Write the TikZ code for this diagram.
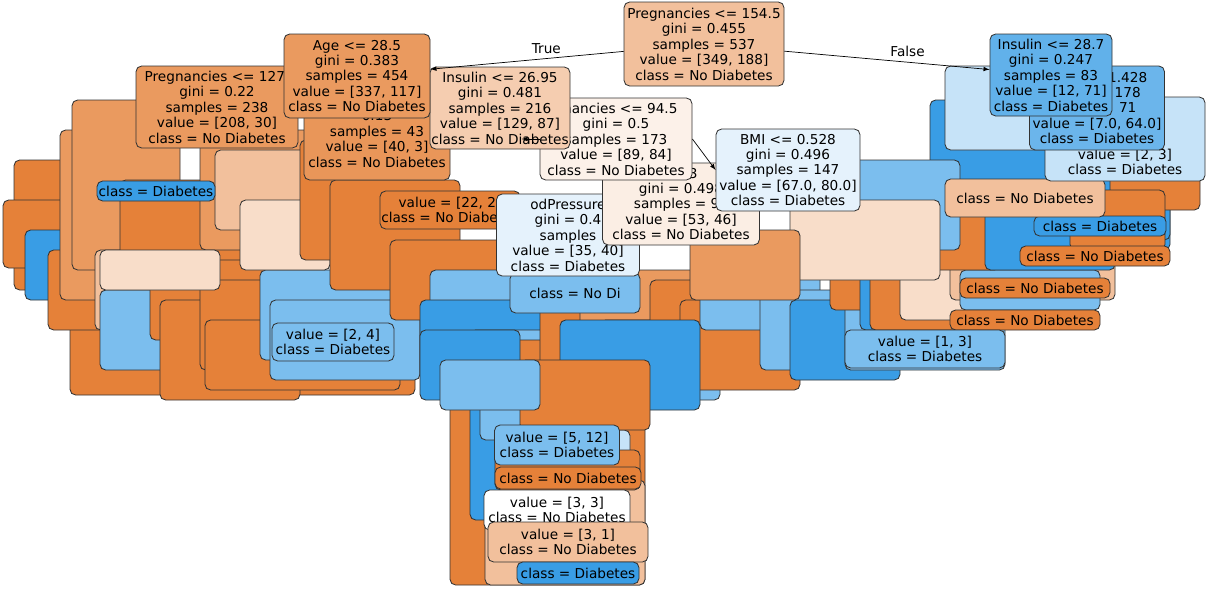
\documentclass[tikz,border=0pt]{standalone}
\usepackage{fontspec}
\setmainfont{DejaVu Sans}
\begin{document}
\begin{tikzpicture}[x=0.025cm,y=-0.025cm,
  nd/.style={draw=black!80,line width=0.6pt,rounded corners=4pt,align=center,inner sep=0pt,
    font=\fontsize{9.7}{11}\selectfont},
  ar/.style={-latex,line width=0.5pt}]
\useasboundingbox (0,0) rectangle (1213,588);
\definecolor{o1}{HTML}{E58139}\definecolor{o2}{HTML}{EA9A5F}\definecolor{o3}{HTML}{F2C09C}
\definecolor{o4}{HTML}{F8DDC9}\definecolor{b1}{HTML}{399DE5}\definecolor{b2}{HTML}{7BBEEE}
\definecolor{b3}{HTML}{C6E3F8}\definecolor{b4}{HTML}{E5F2FC}
\newcommand\bx[6]{\node[nd,fill=#5,minimum width={(#3-#1)*0.025cm},minimum height={(#4-#2)*0.025cm}] (#6) at ({(#1+#3)/2},{(#2+#4)/2}) {};}
% clutter layer
\foreach \a/\b/\c/\d/\e [count=\i] in {
 70/300/415/395/o1, 450/380/645/585/o1, 485/480/645/585/o3, 470/400/560/520/b1,
 14/160/100/290/o1, 3/200/90/268/o1, 25/230/140/300/b1, 48/250/150/330/o1,
 60/130/160/300/o2, 72/100/180/270/o2, 95/250/250/330/o3, 100/290/260/370/b2,
 150/240/310/340/o1, 160/300/300/400/o1, 200/280/320/370/o1, 205/320/400/390/o1,
 260/270/420/360/b2, 270/300/420/380/b2, 120/180/260/260/o1, 200/130/330/250/o2,
 215/150/320/230/o3, 240/200/330/270/o4, 300/140/430/260/o1, 330/180/460/290/o1,
 390/240/520/320/o1, 430/270/560/340/b2, 420/300/560/380/b1, 470/330/600/400/b2,
 505/340/640/410/o1, 540/300/660/380/o1, 580/270/700/350/o2, 600/320/720/400/b2,
 650/280/770/360/o1, 680/300/800/390/o1, 700/250/820/330/b2, 760/290/880/370/b2,
 790/300/900/380/b1, 845/300/1005/370/b2, 830/230/960/310/o1, 860/250/1000/330/b1,
 870/270/1000/330/o1, 900/250/1010/320/o4, 950/250/1115/300/o3, 960/270/1100/310/b2,
 930/170/1060/250/b1, 940/140/1050/240/b3, 960/160/1170/250/b1, 990/180/1170/240/b1,
 920/170/1000/270/o1, 940/130/1010/210/o3, 1000/120/1120/200/o1, 1060/150/1200/210/o1,
 1015/150/1110/200/b1, 930/100/1070/180/b1, 945/66/1060/150/b3, 985/200/1115/270/b1,
 1070/190/1165/250/o1, 850/160/960/250/b2, 790/200/940/280/o4, 690/230/800/300/o2,
 560/320/700/410/b1, 510/430/630/470/b3, 495/450/640/490/o1, 480/380/600/440/b2,
 520/360/650/430/o1, 420/330/520/400/b1, 440/360/540/410/b2, 100/250/220/290/o4}
 {\bx{\a}{\b}{\c}{\d}{\e}{c\i}}
% texts on visible clutter pieces
\node[nd,fill=b1,minimum width=118*0.025cm,minimum height=20*0.025cm] (t1) at (156,191) {class = Diabetes};
\node[nd,fill=b1,minimum width=132*0.025cm,minimum height=20*0.025cm] (t2) at (1100,226) {class = Diabetes};
\node[nd,fill=o1,minimum width=150*0.025cm,minimum height=20*0.025cm] (t3) at (1095,256) {class = No Diabetes};
\node[nd,fill=o1,minimum width=150*0.025cm,minimum height=20*0.025cm] (t4) at (1035,288) {class = No Diabetes};
\node[nd,fill=o1,minimum width=150*0.025cm,minimum height=20*0.025cm] (t5) at (1025,320) {class = No Diabetes};
\node[nd,fill=b2,minimum width=160*0.025cm,minimum height=38*0.025cm] (t6) at (925,349) {value = [1, 3]\\class = Diabetes};
\node[nd,fill=b2,minimum width=122*0.025cm,minimum height=38*0.025cm] (t7) at (333,342) {value = [2, 4]\\class = Diabetes};
\node[nd,fill=b2,minimum width=125*0.025cm,minimum height=40*0.025cm] (t8) at (557,445) {value = [5, 12]\\class = Diabetes};
\node[nd,fill=white,minimum width=146*0.025cm,minimum height=40*0.025cm] (t9) at (557,510) {value = [3, 3]\\class = No Diabetes};
\node[nd,fill=o3,minimum width=160*0.025cm,minimum height=40*0.025cm] (t10) at (568,542) {value = [3, 1]\\class = No Diabetes};
\node[nd,fill=b1,minimum width=122*0.025cm,minimum height=22*0.025cm] (t11) at (578,573) {class = Diabetes};
\node[nd,fill=o1,minimum width=146*0.025cm,minimum height=22*0.025cm] (t12) at (568,478) {class = No Diabetes};
\node[nd,fill=o3,minimum width=160*0.025cm,minimum height=38*0.025cm] (t13) at (1025,198) {class = No Diabetes};
\node[nd,fill=o1,minimum width=140*0.025cm,minimum height=38*0.025cm] (t14) at (450,210) {value = [22, 2]\\class = No Diabetes};
\node[nd,fill=b2,minimum width=130*0.025cm,minimum height=40*0.025cm] (t15) at (575,293) {class = No Di};
% main readable nodes
\node[nd,fill=b4,minimum width=143*0.025cm,minimum height=82*0.025cm] (n9) at (568,235) {odPressure\\gini = 0.4\\samples\\value = [35, 40]\\class = Diabetes};
\node[nd,fill=o4!50!white,minimum width=157*0.025cm,minimum height=82*0.025cm] (n10) at (681,204) {= 83\\gini = 0.498\\samples = 99\\value = [53, 46]\\class = No Diabetes};
\node[nd,fill=b3,minimum width=160*0.025cm,minimum height=84*0.025cm] (n12) at (1125,139) {\hfill 181.5\\\\\\value = [2, 3]\\class = Diabetes};
\node[nd,fill=b1!75!white,minimum width=135*0.025cm,minimum height=84*0.025cm] (n11) at (1097,108) {\hspace*{4.5em}1.428\\\hspace*{4.5em}178\\\hspace*{4.5em}71\\value = [7.0, 64.0]\\class = Diabetes};
\node[nd,fill=o2!85!o1,minimum width=146*0.025cm,minimum height=82*0.025cm] (n8) at (377,139) {0.13\\samples = 43\\value = [40, 3]\\class = No Diabetes};
\node[nd,fill=o2,minimum width=162*0.025cm,minimum height=82*0.025cm] (n4) at (217,107) {Pregnancies <= 127.\\gini = 0.22\\samples = 238\\value = [208, 30]\\class = No Diabetes};
\node[nd,fill=o4!40!white,minimum width=152*0.025cm,minimum height=82*0.025cm] (n5) at (616,139) {gnancies <= 94.5\\gini = 0.5\\samples = 173\\value = [89, 84]\\class = No Diabetes};
\node[nd,fill=o3!80!white,minimum width=140*0.025cm,minimum height=82*0.025cm] (n3) at (500,108) {Insulin <= 26.95\\gini = 0.481\\samples = 216\\value = [129, 87]\\class = No Diabetes};
\node[nd,fill=b4,minimum width=144*0.025cm,minimum height=82*0.025cm] (n6) at (788,170) {BMI <= 0.528\\gini = 0.496\\samples = 147\\value = [67.0, 80.0]\\class = Diabetes};
\node[nd,fill=o2,minimum width=146*0.025cm,minimum height=84*0.025cm] (n2) at (357,76) {Age <= 28.5\\gini = 0.383\\samples = 454\\value = [337, 117]\\class = No Diabetes};
\node[nd,fill=b1!80!white,minimum width=122*0.025cm,minimum height=82*0.025cm] (n7) at (1051,75) {Insulin <= 28.7\\gini = 0.247\\samples = 83\\value = [12, 71]\\class = Diabetes};
\node[nd,fill=o3,minimum width=160*0.025cm,minimum height=84*0.025cm] (n1) at (704,44) {Pregnancies <= 154.5\\gini = 0.455\\samples = 537\\value = [349, 188]\\class = No Diabetes};
% connectors
\draw[ar] (n1) -- node[above,font=\fontsize{9.7}{11}\selectfont,pos=0.4]{True} (n2);
\draw[ar] (n1) -- node[above,font=\fontsize{9.7}{11}\selectfont,pos=0.6]{False} (n7);
\draw[ar] (n5.west) -- ++(-18,0);
\draw[ar] (n5.east) -- (n6.west);
\end{tikzpicture}
\end{document}
